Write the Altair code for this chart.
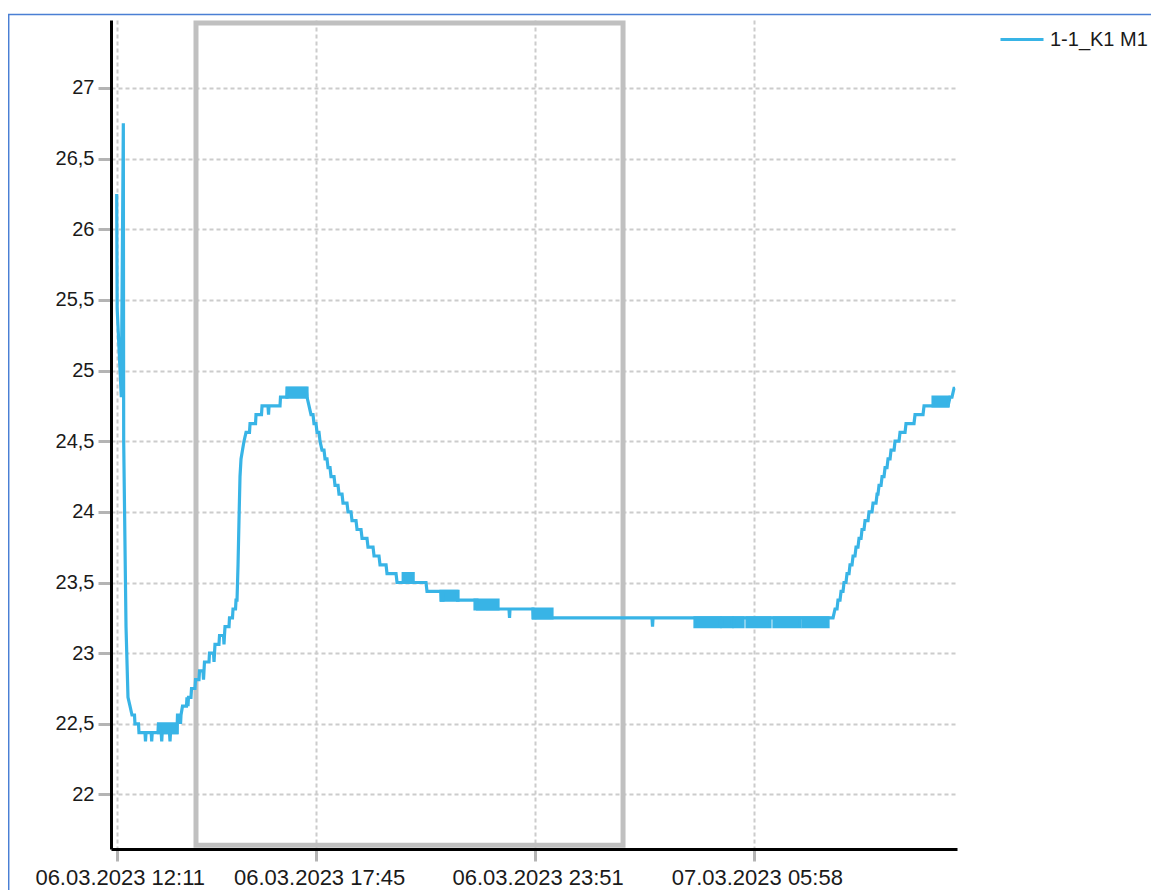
import altair as alt
import pandas as pd

series_name = "1-1_K1 M1"
start_time = pd.Timestamp("2023-03-06 12:11:00")

# minutes after 06.03.2023 12:11 and the temperature read at that moment
minutes = [
    0.0, 0.8, 7.7, 11.1, 11.7, 15.6, 18.9, 22.3, 25.6, 29.8,
    30.6, 36.5, 37.3, 47.4, 48.2, 49.1, 57.8, 58.6, 59.5, 69.2,
    70.0, 74.5, 75.4, 76.2, 88.4, 89.3, 90.1, 101.0, 101.8, 106.0,
    106.9, 107.7, 110.2, 116.9, 117.7, 119.4, 120.2, 124.4, 125.3, 131.1,
    132.0, 137.8, 138.7, 144.5, 145.4, 146.2, 147.0, 154.6, 155.4, 162.1,
    163.0, 163.8, 164.6, 171.3, 172.2, 178.9, 179.7, 180.5, 181.4, 188.1,
    188.9, 193.9, 194.8, 199.0, 199.8, 201.5, 203.2, 204.8, 206.5, 208.2,
    210.7, 213.2, 216.6, 222.4, 223.3, 232.5, 233.3, 242.5, 243.4, 253.4,
    254.3, 255.1, 273.5, 274.3, 285.2, 286.1, 317.0, 318.7, 322.1, 325.4,
    328.8, 330.4, 333.8, 335.5, 338.8, 340.5, 343.8, 347.2, 348.9, 352.2,
    353.9, 357.3, 358.9, 364.0, 365.6, 370.7, 372.3, 377.4, 379.0, 385.7,
    387.4, 392.4, 394.1, 400.8, 402.5, 409.2, 410.9, 419.2, 420.9, 429.3,
    431.0, 439.3, 441.0, 451.1, 452.7, 467.8, 469.5, 518.0, 519.7, 543.1,
    544.0, 546.5, 547.3, 569.9, 570.8, 603.4, 604.3, 657.0, 657.9, 658.7,
    697.2, 698.1, 896.5, 897.4, 898.2, 1199.7, 1203.0, 1206.4, 1208.0, 1211.4,
    1213.1, 1216.4, 1218.1, 1221.4, 1223.1, 1226.5, 1228.1, 1231.5, 1233.2, 1236.5,
    1238.2, 1241.5, 1243.2, 1246.6, 1248.2, 1251.6, 1253.3, 1258.3, 1260.0, 1265.0,
    1266.7, 1271.7, 1273.4, 1275.0, 1276.7, 1280.1, 1281.8, 1285.1, 1286.8, 1290.1,
    1291.8, 1295.2, 1296.8, 1301.9, 1303.5, 1310.2, 1311.9, 1320.3, 1321.9, 1335.3,
    1337.0, 1350.4, 1352.1, 1392.3, 1395.6, 1398.9, 1402.3, 1404.0,
]
temps = [
    26.25, 25.4375, 24.8125, 26.75, 24.5, 23.1875, 22.6875, 22.625, 22.5625, 22.5625,
    22.5, 22.5, 22.4375, 22.4375, 22.375, 22.4375, 22.4375, 22.375, 22.4375, 22.4375,
    22.5, 22.4375, 22.375, 22.4375, 22.4375, 22.375, 22.4375, 22.4375, 22.5625, 22.5625,
    22.5, 22.5625, 22.625, 22.625, 22.6875, 22.625, 22.6875, 22.6875, 22.75, 22.75,
    22.8125, 22.8125, 22.875, 22.875, 22.8125, 22.875, 22.9375, 22.9375, 23.0, 23.0,
    22.9375, 23.0, 23.0625, 23.0625, 23.125, 23.125, 23.0625, 23.125, 23.1875, 23.1875,
    23.25, 23.25, 23.3125, 23.3125, 23.375, 23.375, 23.625, 23.9375, 24.25, 24.375,
    24.4375, 24.5, 24.5625, 24.5625, 24.625, 24.625, 24.6875, 24.6875, 24.75, 24.75,
    24.6875, 24.75, 24.75, 24.8125, 24.8125, 24.875, 24.875, 24.8125, 24.75, 24.6875,
    24.6875, 24.625, 24.625, 24.5625, 24.5625, 24.5, 24.4375, 24.4375, 24.375, 24.375,
    24.3125, 24.3125, 24.25, 24.25, 24.1875, 24.1875, 24.125, 24.125, 24.0625, 24.0625,
    24.0, 24.0, 23.9375, 23.9375, 23.875, 23.875, 23.8125, 23.8125, 23.75, 23.75,
    23.6875, 23.6875, 23.625, 23.625, 23.5625, 23.5625, 23.5, 23.5, 23.4375, 23.4375,
    23.375, 23.375, 23.4375, 23.4375, 23.375, 23.375, 23.3125, 23.3125, 23.25, 23.3125,
    23.3125, 23.25, 23.25, 23.1875, 23.25, 23.25, 23.3125, 23.3125, 23.375, 23.375,
    23.4375, 23.4375, 23.5, 23.5, 23.5625, 23.5625, 23.625, 23.625, 23.6875, 23.6875,
    23.75, 23.75, 23.8125, 23.8125, 23.875, 23.875, 23.9375, 23.9375, 24.0, 24.0,
    24.0625, 24.0625, 24.125, 24.125, 24.1875, 24.1875, 24.25, 24.25, 24.3125, 24.3125,
    24.375, 24.375, 24.4375, 24.4375, 24.5, 24.5, 24.5625, 24.5625, 24.625, 24.625,
    24.6875, 24.6875, 24.75, 24.75, 24.8125, 24.8125, 24.875, 24.875,
]

# stretches where the reading flickers between two adjacent values
band_start = [70.0, 285.2, 479.8, 543.1, 600.1, 697.2, 968.5, 1013.7, 1033.8, 1055.6, 1100.8, 1149.4, 1367.2]
band_end = [101.0, 318.7, 496.5, 571.6, 638.6, 729.0, 1010.4, 1030.5, 1048.9, 1094.1, 1144.4, 1191.3, 1392.3]
band_low = [22.4375, 24.8125, 23.5, 23.375, 23.3125, 23.25, 23.1875, 23.1875, 23.1875, 23.1875, 23.1875, 23.1875, 24.75]
band_high = [22.5, 24.875, 23.5625, 23.4375, 23.375, 23.3125, 23.25, 23.25, 23.25, 23.25, 23.25, 23.25, 24.8125]

# grey selection window
window_start = [132.8]
window_end = [848.0]
window_low = [21.64]
window_high = [27.46]

x_tick_times = ["2023-03-06 12:11", "2023-03-06 17:45", "2023-03-06 23:51", "2023-03-07 05:58"]
y_tick_values = [22, 22.5, 23, 23.5, 24, 24.5, 25, 25.5, 26, 26.5, 27]
x_range = ["2023-03-06 12:01:27", "2023-03-07 11:38:18"]
y_range = [21.614, 27.481]

LINE_BLUE = "#38b4e6"
FRAME_BLUE = "#4a7fd4"
FONT = "Liberation Sans"


def to_dt(s):
    t = pd.Timestamp(s)
    return alt.DateTime(year=t.year, month=t.month, date=t.day,
                        hours=t.hour, minutes=t.minute, seconds=t.second)


line_df = pd.DataFrame({
    "time": start_time + pd.to_timedelta(minutes, unit="min"),
    "temp": temps,
    "series": series_name,
})
band_df = pd.DataFrame({
    "t0": start_time + pd.to_timedelta(band_start, unit="min"),
    "t1": start_time + pd.to_timedelta(band_end, unit="min"),
    "lo": band_low,
    "hi": band_high,
})
window_df = pd.DataFrame({
    "t0": start_time + pd.to_timedelta(window_start, unit="min"),
    "t1": start_time + pd.to_timedelta(window_end, unit="min"),
    "lo": window_low,
    "hi": window_high,
})

x_scale = alt.Scale(domain=[to_dt(s) for s in x_range])
y_scale = alt.Scale(domain=y_range, nice=False, zero=False)

x_axis = alt.Axis(
    title=None, values=[to_dt(s) for s in x_tick_times], format="%d.%m.%Y %H:%M",
    labelAngle=0, labelFontSize=22, labelPadding=6, tickSize=12, labelFlush=False,
    labelOverlap=False, labelOffset=3,
)
y_axis = alt.Axis(
    title=None, values=y_tick_values,
    labelExpr="replace(toString(datum.value), '.', ',')",
    labelFontSize=20, labelPadding=4, tickSize=13,
)

window = alt.Chart(window_df).mark_rect(
    fillOpacity=0, stroke="#c0c0c0", strokeWidth=5
).encode(
    x=alt.X("t0:T", scale=x_scale, axis=x_axis),
    x2="t1:T",
    y=alt.Y("lo:Q", scale=y_scale, axis=y_axis),
    y2="hi:Q",
)

bands = alt.Chart(band_df).mark_rect(
    color=LINE_BLUE, stroke=LINE_BLUE, strokeWidth=3.2
).encode(
    x="t0:T", x2="t1:T", y="lo:Q", y2="hi:Q",
)

line = alt.Chart(line_df).mark_line(strokeWidth=3.2).encode(
    x="time:T",
    y="temp:Q",
    color=alt.Color(
        "series:N",
        scale=alt.Scale(range=[LINE_BLUE]),
        legend=alt.Legend(
            title=None, orient="none", legendX=888, legendY=-3.5,
            symbolType="stroke", symbolSize=1849, symbolStrokeWidth=3,
            labelFontSize=20, labelFont=FONT, labelColor="#1a1a1a",
            labelOffset=5, padding=0,
        ),
    ),
)

edge_df = pd.DataFrame({"edge": ["frame"]})
frame_left = alt.Chart(edge_df).mark_rule(color=FRAME_BLUE, strokeWidth=1.5).encode(
    x=alt.value(-102.3), y=alt.value(-5.5), y2=alt.value(900)
)
frame_top = alt.Chart(edge_df).mark_rule(color=FRAME_BLUE, strokeWidth=1.5).encode(
    x=alt.value(-103), x2=alt.value(1100), y=alt.value(-5.5)
)

chart = alt.layer(window, bands, line, frame_left, frame_top).properties(
    width=846, height=829,
    autosize=alt.AutoSizeParams(type="none"),
    padding={"left": 103, "top": 12, "right": 194, "bottom": 41},
    background="white",
).configure_view(stroke=None).configure_axis(
    labelFont=FONT, labelColor="#1a1a1a",
    domainColor="black", domainWidth=3,
    tickColor="#b4b4b4", tickWidth=3,
    gridColor="#cccccc", gridDash=[4, 3], gridWidth=2,
)

chart.save("out.html", embed_options={"renderer": "svg", "actions": False})
